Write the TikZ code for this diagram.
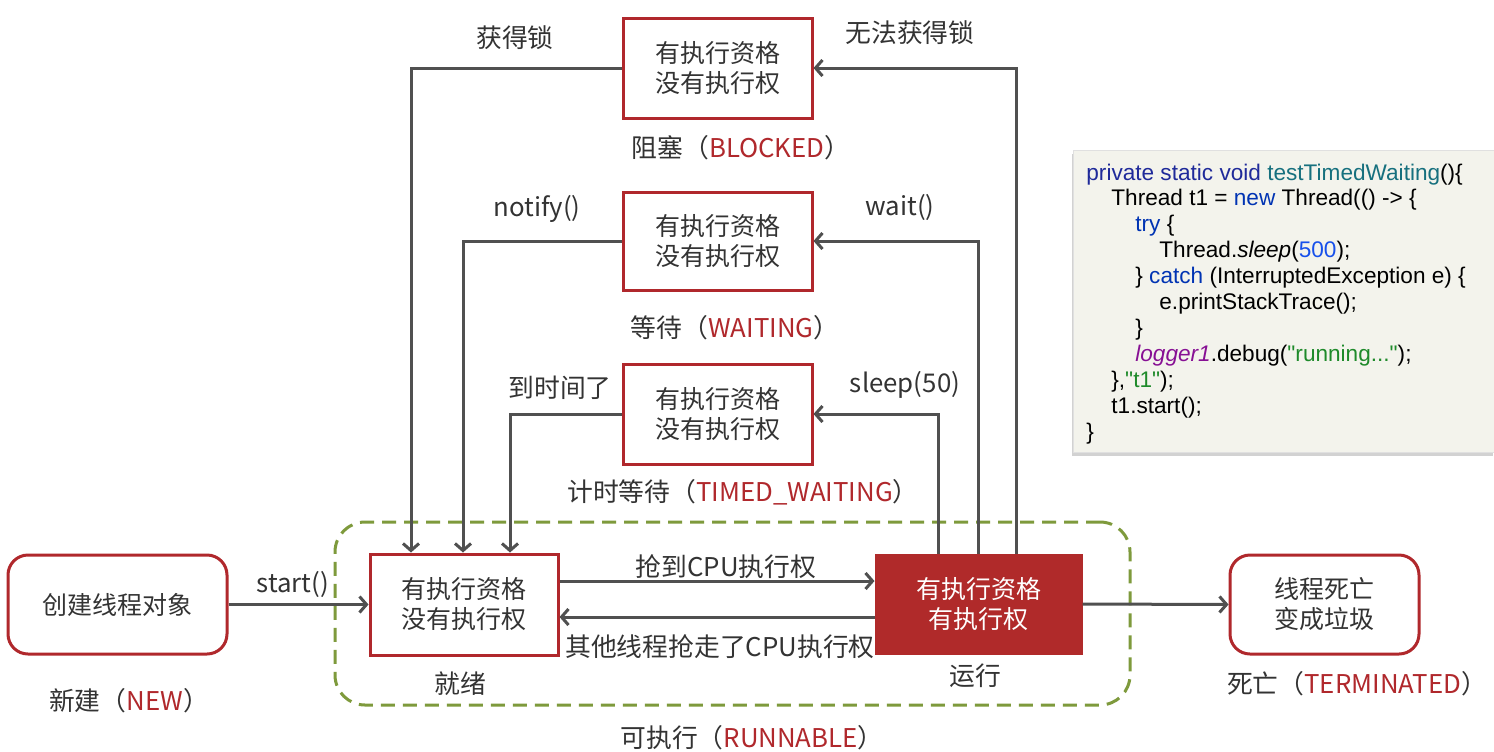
\documentclass[tikz,border=0pt]{standalone}
\usepackage{fontspec}
\setmainfont{Noto Sans CJK SC}
\newfontfamily\codefont{Liberation Sans}
\usetikzlibrary{arrows.meta,shadows}

\definecolor{boxred}{HTML}{B0282C}
\definecolor{runred}{HTML}{B02A2A}
\definecolor{linegray}{HTML}{505050}
\definecolor{txtgray}{HTML}{333333}
\definecolor{olivedash}{HTML}{7E9A3C}
\definecolor{codebg}{HTML}{F3F3EC}
\definecolor{kwnavy}{HTML}{1F2A9A}
\definecolor{kwblue}{HTML}{0033B3}
\definecolor{numblue}{HTML}{1750EB}
\definecolor{methteal}{HTML}{16707E}
\definecolor{fieldpurple}{HTML}{871094}
\definecolor{strgreen}{HTML}{1E8A2A}

\tikzset{
  statebox/.style={draw=boxred, line width=1.5pt, fill=white, align=center,
    text=txtgray, font=\fontsize{12.5}{15}\selectfont,
    minimum width=94.5pt, minimum height=50pt},
  roundbox/.style={statebox, rounded corners=10pt},
  runbox/.style={statebox, fill=runred, draw=runred, text=white},
  lbl/.style={text=txtgray, font=\fontsize{12.9}{15}\selectfont, inner sep=0pt},
  arr/.style={draw=linegray, line width=1.5pt,
    -{Straight Barb[length=3.5pt,width=8pt]}},
  codeline/.style={anchor=base west, inner sep=0pt, text=black,
    font=\codefont\fontsize{11.3}{13}\selectfont},
}

\begin{document}
\begin{tikzpicture}[x=0.5pt, y=-0.5pt]
\useasboundingbox[fill=white] (0,0) rectangle (1494,751);

% dashed frame of the runnable state
\node[draw=olivedash, line width=1.5pt, dash pattern=on 7pt off 4pt,
      rounded corners=15pt, minimum width=397.5pt, minimum height=91.5pt]
      (runnable) at (732.5,613.5) {};

% states
\node[statebox] (blocked) at (717.5,68)  {有执行资格\\没有执行权};
\node[statebox, minimum height=49pt] (waiting) at (717.5,241) {有执行资格\\没有执行权};
\node[statebox] (timed)   at (717.5,414) {有执行资格\\没有执行权};
\node[statebox, minimum width=94pt, minimum height=50.5pt] (ready) at (464,604.5) {有执行资格\\没有执行权};
\node[runbox, minimum width=102.5pt, minimum height=49pt] (running) at (978.5,604) {有执行资格\\有执行权};
\node[roundbox, minimum width=109.5pt, minimum height=49.5pt] (newobj) at (117.5,604.5) {创建线程对象};
\node[roundbox, minimum height=49.5pt] (dead) at (1324.5,604.5) {线程死亡\\变成垃圾};

% state captions
\node[lbl] (blockedcap) at (741,148) {阻塞（\textcolor{boxred}{BLOCKED}）};
\node[lbl] (waitingcap) at (735,328) {等待（\textcolor{boxred}{WAITING}）};
\node[lbl] (timedcap)   at (743,492) {计时等待（\textcolor{boxred}{TIMED\_WAITING}）};
\node[lbl] (readycap)   at (460,684) {就绪};
\node[lbl] (runningcap) at (975,676) {运行};
\node[lbl] (newcap)     at (129,701) {新建（\textcolor{boxred}{NEW}）};
\node[lbl] (deadcap)    at (1357,684) {死亡（\textcolor{boxred}{TERMINATED}）};
\node[lbl] (runnablecap) at (752,738) {可执行（\textcolor{boxred}{RUNNABLE}）};

% transitions out of running
\draw[arr] ([xshift=-20.25pt]running.north) |- (timed.east);
\draw[arr] (running.north) |- (waiting.east);
\draw[arr] ([xshift=18.75pt]running.north) |- (blocked.east);
% transitions back to ready
\draw[arr] (blocked.west) -| ([xshift=-26.5pt]ready.north);
\draw[arr] (waiting.west) -| ([xshift=-0.5pt]ready.north);
\draw[arr] (timed.west) -| ([xshift=23pt]ready.north);
% ready <-> running
\draw[arr] ([yshift=11.75pt]ready.east) -- ([yshift=11.5pt]running.west);
\draw[arr] ([yshift=-6.5pt]running.west) -- ([yshift=-6.25pt]ready.east);
% start and termination
\draw[arr] (newobj.east) -- (ready.west);
\draw[arr] (running.east) -- (dead.west);

% transition labels
\node[lbl] (lgetlock)   at (515,38)  {获得锁};
\node[lbl] (lnolock)    at (910,33)  {无法获得锁};
\node[lbl] (lnotify)    at (537,209) {notify()};
\node[lbl] (lwait)      at (900,207) {wait()};
\node[lbl] (ltimeout)   at (560,388) {到时间了};
\node[lbl] (lsleep)     at (905,385) {sleep(50)};
\node[lbl] (lstart)     at (293,584) {start()};
\node[lbl] (lgetcpu)    at (726,567) {抢到CPU执行权};
\node[lbl] (llosecpu)   at (720,647) {其他线程抢走了CPU执行权};

% code sample
\node[anchor=north west, fill=codebg, draw=black!12, line width=0.5pt,
      minimum width=210.5pt, minimum height=151pt,
      drop shadow={shadow xshift=-0.8pt, shadow yshift=-1.6pt, opacity=0.35}]
      (codebox) at (1073,150) {};
\node[codeline] (c1)  at (1086,180.0) {\textcolor{kwnavy}{private static void} \textcolor{methteal}{testTimedWaiting}()\{};
\node[codeline] (c2)  at (1111,205.9) {Thread t1 = \textcolor{kwblue}{new} Thread(() -> \{};
\node[codeline] (c3)  at (1135,231.8) {\textcolor{kwblue}{try} \{};
\node[codeline] (c4)  at (1159,257.7) {Thread.\textit{sleep}(\textcolor{numblue}{500});};
\node[codeline] (c5)  at (1135,283.6) {\} \textcolor{kwblue}{catch} (InterruptedException e) \{};
\node[codeline] (c6)  at (1159,309.5) {e.printStackTrace();};
\node[codeline] (c7)  at (1135,335.4) {\}};
\node[codeline] (c8)  at (1135,361.3) {\textcolor{fieldpurple}{\textit{logger1}}.debug(\textcolor{strgreen}{"running..."});};
\node[codeline] (c9)  at (1111,387.2) {\},\textcolor{strgreen}{"t1"});};
\node[codeline] (c10) at (1111,413.1) {t1.start();};
\node[codeline] (c11) at (1086,439.0) {\}};
\end{tikzpicture}
\end{document}
